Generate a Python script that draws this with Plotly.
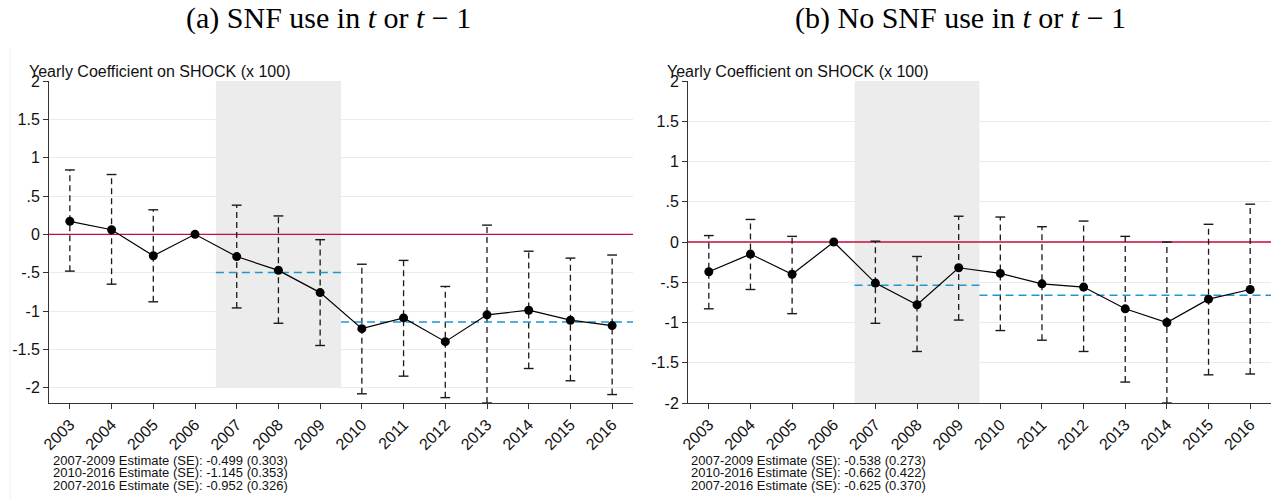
import plotly.graph_objects as go

# Years on the x axis
years = list(range(2003, 2017))

# (a) SNF use in t or t-1
coef_a = [0.17, 0.06, -0.28, 0.0, -0.29, -0.47, -0.76, -1.23, -1.09, -1.40, -1.05, -0.99, -1.12, -1.19]
hi_a = [0.84, 0.78, 0.32, None, 0.38, 0.24, -0.07, -0.39, -0.34, -0.68, 0.12, -0.22, -0.31, -0.27]
lo_a = [-0.48, -0.65, -0.88, None, -0.96, -1.16, -1.45, -2.08, -1.85, -2.13, -2.20, -1.75, -1.91, -2.09]
est_a = [-0.499, -1.145]
notes_a = ['2007-2009 Estimate (SE): -0.499 (0.303)',
           '2010-2016 Estimate (SE): -1.145 (0.353)',
           '2007-2016 Estimate (SE): -0.952 (0.326)']

# (b) No SNF use in t or t-1
coef_b = [-0.37, -0.15, -0.40, 0.0, -0.51, -0.78, -0.32, -0.39, -0.52, -0.56, -0.83, -1.00, -0.71, -0.59]
hi_b = [0.08, 0.28, 0.07, None, 0.01, -0.18, 0.32, 0.31, 0.19, 0.26, 0.07, 0.0, 0.22, 0.47]
lo_b = [-0.83, -0.59, -0.89, None, -1.01, -1.36, -0.97, -1.10, -1.22, -1.36, -1.74, -2.0, -1.65, -1.64]
est_b = [-0.538, -0.662]
notes_b = ['2007-2009 Estimate (SE): -0.538 (0.273)',
           '2010-2016 Estimate (SE): -0.662 (0.422)',
           '2007-2016 Estimate (SE): -0.625 (0.370)']

# estimate periods (first year, last year)
periods = [(2007, 2009), (2010, 2016)]

ytick_vals = [-2, -1.5, -1, -0.5, 0, 0.5, 1, 1.5, 2]
ytick_text = ['-2', '-1.5', '-1', '-.5', '0', '.5', '1', '1.5', '2']

W, H = 1271, 499
sans = 'Liberation Sans, Arial, sans-serif'
grid_col = '#e6eded'
red = '#cc0a3c'
blue = '#1f97cf'
ink = '#1a1a1a'
x_range = [years[0] - 0.5, years[-1] + 0.5]

fig = go.Figure()


def add_panel(fig, coef, hi, lo, est, ax):
    xa = 'x' if ax == 1 else 'x2'
    ya = 'y' if ax == 1 else 'y2'
    # shaded period
    fig.add_shape(type='rect', xref=xa, yref=ya, x0=periods[0][0] - 0.5,
                  x1=periods[0][1] + 0.5, y0=-2, y1=2, fillcolor='#ececec',
                  line=dict(width=0), layer='below')
    # zero line
    fig.add_trace(go.Scatter(x=x_range, y=[0, 0], mode='lines', xaxis=xa, yaxis=ya,
                             line=dict(color=red, width=1.4),
                             showlegend=False, hoverinfo='skip'))
    # dashed CI lines
    cx, cy = [], []
    for yr, h, l in zip(years, hi, lo):
        if h is None:
            continue
        cx += [yr, yr, None]
        cy += [l, h, None]
    fig.add_trace(go.Scatter(x=cx, y=cy, mode='lines', xaxis=xa, yaxis=ya,
                             line=dict(color=ink, width=1.3, dash='6px,4px'),
                             showlegend=False, hoverinfo='skip'))
    # caps
    capx = [yr for yr, h in zip(years, hi) if h is not None] * 2
    capy = [h for h in hi if h is not None] + [l for l in lo if l is not None]
    fig.add_trace(go.Scatter(x=capx, y=capy, mode='markers', xaxis=xa, yaxis=ya,
                             marker=dict(symbol='line-ew', size=7,
                                         line=dict(color=ink, width=1.4)),
                             showlegend=False, hoverinfo='skip', cliponaxis=False))
    # period estimates
    for (p0, p1), e in zip(periods, est):
        fig.add_trace(go.Scatter(x=[p0 - 0.5, p1 + 0.5], y=[e, e], mode='lines',
                                 xaxis=xa, yaxis=ya,
                                 line=dict(color=blue, width=1.5, dash='8px,5px'),
                                 showlegend=False))
    # coefficients
    fig.add_trace(go.Scatter(x=years, y=coef, mode='lines+markers', xaxis=xa, yaxis=ya,
                             line=dict(color='black', width=1.2),
                             marker=dict(color='black', size=9),
                             showlegend=False))


add_panel(fig, coef_a, hi_a, lo_a, est_a, 1)
add_panel(fig, coef_b, hi_b, lo_b, est_b, 2)

xax = dict(range=x_range, tickvals=years, ticktext=[str(y) for y in years],
           tickangle=-45, ticks='outside', ticklen=5, tickcolor='#333',
           showline=True, linecolor='#333', linewidth=1, showgrid=False, zeroline=False,
           automargin=False, tickfont=dict(family=sans, size=16, color='#111'))
yax = dict(tickvals=ytick_vals, ticktext=ytick_text, ticks='outside', ticklen=5,
           tickcolor='#333', showline=True, linecolor='#333', linewidth=1,
           showgrid=True, gridcolor=grid_col, gridwidth=1, zeroline=False,
           automargin=False, tickfont=dict(family=sans, size=16, color='#111'))

ybot, ytop = 1 - 403 / H, 1 - 81 / H
fig.update_layout(
    width=W, height=H, margin=dict(l=0, r=0, t=0, b=0, autoexpand=False),
    plot_bgcolor='white', paper_bgcolor='white',
    xaxis=dict(xax, domain=[49 / W, 633 / W], anchor='y'),
    yaxis=dict(yax, domain=[ybot, ytop], range=[-2.2, 2], anchor='x'),
    xaxis2=dict(xax, domain=[688 / W, 1.0], anchor='y2'),
    yaxis2=dict(yax, domain=[ybot, ytop], range=[-2, 2], anchor='x2'),
)

serif = 'Liberation Serif, Times New Roman, serif'
ann = []
ann.append(dict(text='(a) SNF use in <i>t</i> or <i>t</i> − 1', x=328 / W, y=1 - 18 / H,
                font=dict(family=serif, size=30, color='black')))
ann.append(dict(text='(b) No SNF use in <i>t</i> or <i>t</i> − 1', x=960 / W, y=1 - 18 / H,
                font=dict(family=serif, size=30, color='black')))
for x0 in (28, 666):
    ann.append(dict(text='Yearly Coefficient on SHOCK (x 100)', x=x0 / W, y=1 - 71 / H,
                    xanchor='left', font=dict(family=sans, size=16, color='#111')))
for x0, notes in ((52, notes_a), (690, notes_b)):
    for i, t in enumerate(notes):
        ann.append(dict(text=t, x=x0 / W, y=1 - (460 + 12.7 * i) / H, xanchor='left',
                        font=dict(family=sans, size=13, color='#111')))
for a in ann:
    a.update(xref='paper', yref='paper', showarrow=False, yanchor='middle', borderpad=0)
    a.setdefault('xanchor', 'center')
fig.update_layout(annotations=ann)

# faint outer border of the graph region
fig.add_shape(type='line', xref='paper', yref='paper', x0=10 / W, x1=10 / W,
              y0=0, y1=1 - 48 / H, line=dict(color='#eeeeee', width=1))

# page body has a default 8px margin; drop it so the figure sits at the corner
fig.write_html('out.html', config={'displayModeBar': False},
               post_script="document.body.style.margin='0';")
